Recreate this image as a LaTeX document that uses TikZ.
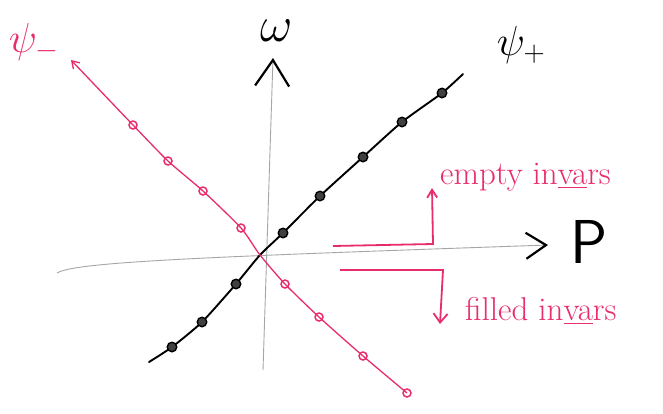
\RequirePackage{fix-cm}
\documentclass[tikz,border=0pt]{standalone}
\usepackage{amsmath}
\usetikzlibrary{arrows.meta,positioning}
\definecolor{penpink}{RGB}{232,45,110}

\begin{document}
\begin{tikzpicture}[x=1pt, y=-1pt,
    axis/.style={gray!70, line width=0.9pt},
    blackdot/.style={circle, draw=black, fill=black!75, line width=1.4pt, minimum size=9.5pt, inner sep=0pt},
    pinkdot/.style={circle, draw=penpink, line width=1.5pt, minimum size=8pt, inner sep=0pt},
    pinkline/.style={penpink, line width=1.3pt},
    note/.style={text=penpink, font=\fontsize{33}{36}\selectfont, anchor=base west, inner sep=0pt},
    biglabel/.style={font=\fontsize{42}{46}\selectfont}
]
\useasboundingbox[fill=white] (0,0) rectangle (663,413);

% Axes
\coordinate (pstart) at (57,273);
\coordinate (pend) at (548,245);
\coordinate (wstart) at (263,370);
\coordinate (wend) at (273,58);
\draw[axis, -{Straight Barb[color=black, length=20pt, width=26pt, line width=2.2pt]}]
    (pstart) .. controls (75,262) and (200,257) .. (pend);
\draw[axis, -{Straight Barb[color=black, length=26pt, width=34pt, line width=2.2pt]}]
    (wstart) -- (wend);
\node[font=\fontsize{62}{66}\sffamily] (plabel) at (589,242) {P};
\node[font=\fontsize{50}{54}\selectfont, inner sep=1pt] (wlabel) at (277,31) {$\omega$};

% psi plus branch (black)
\coordinate (o) at (260,255);
\coordinate (bstart) at (149,362);
\coordinate (bend) at (463,74);
\coordinate (b1) at (172,347);
\coordinate (b2) at (202,322);
\coordinate (b3) at (236,284);
\coordinate (b4) at (283,233);
\coordinate (b5) at (320,196);
\coordinate (b6) at (363,157);
\coordinate (b7) at (402,122);
\coordinate (b8) at (442,93);
\draw[black, line width=1.9pt, line cap=round]
    plot[smooth, tension=0.4] coordinates {(bstart) (b1) (b2) (b3) (o) (b4) (b5) (b6) (b7) (b8) (bend)};
\foreach \i in {1,...,8}
    \node[blackdot] (bd\i) at (b\i) {};
\node[biglabel] (psiplus) at (521,45) {$\psi_+$};

% psi minus branch (pink)
\coordinate (ptip) at (71,60);
\coordinate (p1) at (133,125);
\coordinate (p2) at (168,161);
\coordinate (p3) at (203,191);
\coordinate (p4) at (241,228);
\coordinate (p5) at (285,284);
\coordinate (p6) at (319,317);
\coordinate (p7) at (363,356);
\coordinate (p8) at (407,393);
\draw[pinkline, {Straight Barb[length=7pt, width=9pt]}-]
    plot[smooth, tension=0.4] coordinates {(ptip) (p1) (p2) (p3) (p4) (o) (p5) (p6) (p7) (p8)};
\foreach \i in {1,...,8}
    \node[pinkdot] (pd\i) at (p\i) {};
\node[biglabel, text=penpink] (psiminus) at (34,42) {$\psi_-$};

% empty / filled brackets
\coordinate (e0) at (333,246);
\coordinate (e1) at (433,244);
\coordinate (etip) at (432,188);
\draw[pinkline, line width=1.8pt, -{Straight Barb[length=8pt, width=10pt]}] (e0) -- (e1) -- (etip);
\node[note] (empty) at (440,184) {empty in\underline{va}rs};

\coordinate (f0) at (340,270);
\coordinate (f1) at (443,270);
\coordinate (ftip) at (440,324);
\draw[pinkline, line width=1.8pt, -{Straight Barb[length=9pt, width=14pt]}] (f0) -- (f1) -- (ftip);
\node[note] (filled) at (465,320) {filled in\underline{va}rs};

\end{tikzpicture}
\end{document}
